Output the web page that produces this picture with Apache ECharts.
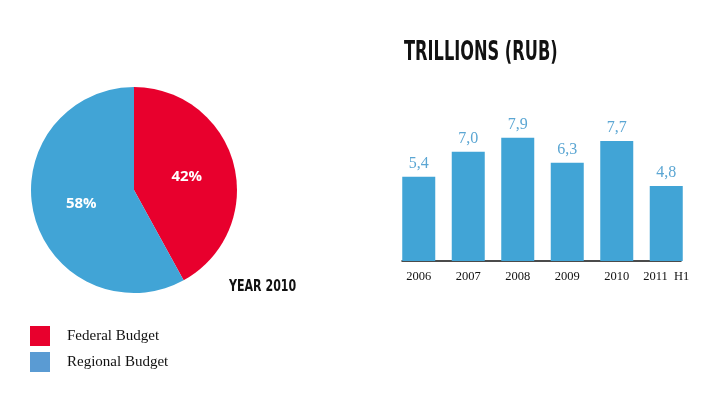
<!DOCTYPE html>
<html>
<head>
<meta charset="utf-8">
<script src="https://cdn.jsdelivr.net/npm/echarts@6/dist/echarts.min.js"></script>
<style>
  html, body { margin: 0; padding: 0; background: #fff; }
  #chart { width: 714px; height: 398px; }
</style>
</head>
<body>
<div id="chart"></div>
<script>
// pie: budget split, year 2010
const budgetNames = ['Federal Budget', 'Regional Budget'];
const budgetShares = [42, 58];
const budgetColors = ['#E8002D', '#41A4D6'];
const legendColors = ['#E8002D', '#5A9BD3'];

// bars: trillions of rubles
const years = ['2006', '2007', '2008', '2009', '2010', '2011  H1'];
const trillions = [5.4, 7.0, 7.9, 6.3, 7.7, 4.8];

const heavy = "'DejaVu Sans', sans-serif";
const serif = "'Liberation Serif', 'DejaVu Serif', serif";

const chart = echarts.init(document.getElementById('chart'), null, { renderer: 'canvas' });

chart.setOption({
  animation: false,
  backgroundColor: '#fff',
  // headline texts are squeezed horizontally to mimic the condensed display face
  graphic: [
    {
      type: 'text', x: 404, y: 53, scaleX: 0.6,
      style: {
        text: 'TRILLIONS (RUB)', fill: '#111',
        font: "bold 27px " + heavy, textAlign: 'left', textVerticalAlign: 'middle'
      }
    },
    {
      type: 'text', x: 229, y: 287, scaleX: 0.67,
      style: {
        text: 'YEAR 2010', fill: '#111',
        font: "bold 16.5px " + heavy, textAlign: 'left', textVerticalAlign: 'middle'
      }
    }
  ],
  legend: {
    orient: 'vertical',
    left: 25, top: 321,
    icon: 'rect',
    itemWidth: 20, itemHeight: 20, itemGap: 6,
    selectedMode: false,
    textStyle: { fontFamily: serif, fontSize: 15, color: '#111', padding: [2, 0, 0, 12] },
    data: budgetNames.map((n, i) => ({ name: n, itemStyle: { color: legendColors[i] } }))
  },
  grid: [
    { left: 394, top: 105, width: 297, height: 156 },
    { left: 402, top: 105, width: 279, height: 156 }
  ],
  xAxis: [
    {
      type: 'category', gridIndex: 0, data: years,
      axisLine: { show: false }, axisTick: { show: false },
      axisLabel: { interval: 0, fontFamily: serif, fontSize: 12.5, color: '#111', margin: 9 }
    },
    {
      type: 'value', gridIndex: 1, min: 0, max: 1,
      axisLine: { show: true, lineStyle: { color: '#111', width: 1.5 } },
      axisTick: { show: false }, axisLabel: { show: false }, splitLine: { show: false }
    }
  ],
  yAxis: [
    { type: 'value', gridIndex: 0, min: 0, max: 10, show: false, splitLine: { show: false } },
    { type: 'value', gridIndex: 1, min: 0, max: 10, show: false, splitLine: { show: false } }
  ],
  series: [
    {
      type: 'pie',
      center: [134, 190], radius: 103,
      startAngle: 90, clockwise: true,
      label: {
        show: true, position: 'inside',
        formatter: '{c}%',
        color: '#fff', fontWeight: 'bold', fontSize: 15, fontFamily: "'Open Sans', sans-serif"
      },
      labelLine: { show: false },
      emphasis: { disabled: true },
      data: budgetNames.map((n, i) => ({ name: n, value: budgetShares[i], itemStyle: { color: budgetColors[i] } }))
    },
    {
      type: 'bar',
      xAxisIndex: 0, yAxisIndex: 0,
      data: trillions,
      barWidth: 33,
      itemStyle: { color: '#41A4D6' },
      label: {
        show: true, position: 'top', distance: 5,
        formatter: p => p.value.toFixed(1).replace('.', ','),
        fontFamily: serif, fontSize: 16, color: '#5BA6D3'
      }
    }
  ]
});
</script>
</body>
</html>
